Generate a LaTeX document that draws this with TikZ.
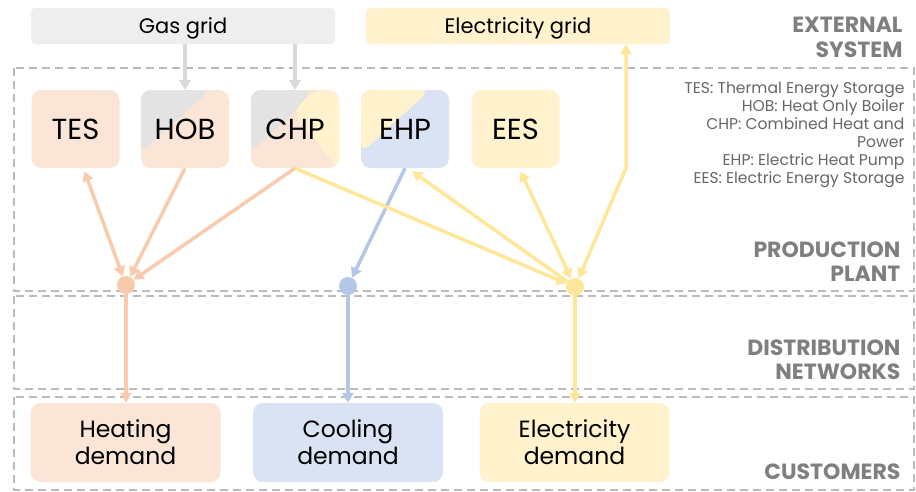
\documentclass[tikz,border=0pt]{standalone}
\usepackage{fontspec}
\setmainfont{Poppins}
\usetikzlibrary{arrows.meta,calc}

\definecolor{peachfill}{HTML}{FBE5D6}
\definecolor{peachline}{HTML}{F8CBAD}
\definecolor{yellowfill}{HTML}{FFF2CC}
\definecolor{yellowline}{HTML}{FFE699}
\definecolor{bluefill}{HTML}{DAE3F3}
\definecolor{blueline}{HTML}{B4C7E7}
\definecolor{gridgray}{HTML}{EEEEEE}
\definecolor{partgray}{HTML}{E3E3E3}
\definecolor{gasline}{HTML}{D9D9D9}
\definecolor{framegray}{HTML}{BBBBBB}
\definecolor{headgray}{HTML}{7F7F7F}
\definecolor{notegray}{HTML}{666666}

\tikzset{
  gridbox/.style={rounded corners=4pt, minimum width=304pt, minimum height=36pt,
    inner sep=0pt, text height=14.7pt, text depth=0pt,
    font=\fontsize{21}{24}\selectfont},
  unitbox/.style={rounded corners=10pt, minimum width=88pt, minimum height=78pt,
    inner sep=0pt, text height=20pt, text depth=0pt,
    font=\fontsize{29}{32}\selectfont},
  demandbox/.style={rounded corners=10pt, minimum width=190pt, minimum height=79pt,
    inner sep=0pt, align=center, font=\fontsize{23.5}{27}\selectfont},
  hub/.style={circle, inner sep=0pt, minimum size=18pt},
  region/.style={draw=framegray, line width=1.4pt, dash pattern=on 8pt off 5pt},
  flow/.style={line width=3.5pt, arrows={-Triangle[length=10pt,width=11pt]}},
  twoway/.style={line width=3.5pt,
    arrows={Triangle[length=10pt,width=11pt]-Triangle[length=10pt,width=11pt]}},
  heat/.style={draw=peachline},
  cold/.style={draw=blueline},
  elec/.style={draw=yellowline},
  gas/.style={draw=gasline, line width=3.5pt, arrows={-Triangle[length=10pt,width=12pt]}},
  head/.style={anchor=base east, text=headgray,
    font=\bfseries\fontsize{22}{24}\selectfont},
  note/.style={anchor=base east, text=notegray, font=\fontsize{15.6}{18}\selectfont},
}

\begin{document}
\begin{tikzpicture}[x=1pt, y=-1pt]
\useasboundingbox (0,0) rectangle (916,491);

% layer frames
\draw[region] (14,68) rectangle (914,291);
\draw[region] (14,296) rectangle (914,389);
\draw[region] (14,397) rectangle (914,490);

% external grids
\node[gridbox, fill=gridgray] (gas) at (183,26) {Gas grid};
\node[gridbox, fill=yellowfill] (egrid) at (518,26) {Electricity grid};

% production units
\node[unitbox, fill=peachfill] (tes) at (75.5,129) {TES};
\node[unitbox, fill=peachfill,
  path picture={\fill[partgray]
    (path picture bounding box.north west)
    -- ++(69,0) -- ++(-69,63) -- cycle;}] (hob) at (185,129) {HOB};
\node[unitbox, fill=peachfill,
  path picture={
    \fill[partgray] (path picture bounding box.north west)
      -- ++(62,0) -- ++(-20,23) -- ++(-42,39) -- cycle;
    \fill[yellowfill] ($(path picture bounding box.north west)+(62,0)$)
      -- ++(33,0) -- ++(0,88) -- ++(-53,-65) -- cycle;}] (chp) at (295,129) {CHP};
\node[unitbox, fill=bluefill,
  path picture={\fill[yellowfill]
    (path picture bounding box.north west)
    -- ++(69,0) -- ++(-69,63) -- cycle;}] (ehp) at (405,129) {EHP};
\node[unitbox, fill=yellowfill] (ees) at (515.5,129) {EES};

% abbreviations
\node[note] (n1) at (908,93) {TES: Thermal Energy Storage};
\node[note] (n2) at (908,111) {HOB: Heat Only Boiler};
\node[note] (n3) at (908,129) {CHP: Combined Heat and};
\node[note] (n4) at (908,147) {Power};
\node[note] (n5) at (908,165) {EHP: Electric Heat Pump};
\node[note] (n6) at (908,183.5) {EES: Electric Energy Storage};

% layer titles
\node[head] (h1) at (906,32) {EXTERNAL};
\node[head] (h2) at (906,57) {SYSTEM};
\node[head] (h3) at (904,257) {PRODUCTION};
\node[head] (h4) at (904,281) {PLANT};
\node[head] (h5) at (904,355) {DISTRIBUTION};
\node[head] (h6) at (904,379) {NETWORKS};
\node[head] (h7) at (904,479) {CUSTOMERS};

% demands
\node[demandbox, fill=peachfill] (hdem) at (125.5,442.5) {Heating\\demand};
\node[demandbox, fill=bluefill] (cdem) at (348,442.5) {Cooling\\demand};
\node[demandbox, fill=yellowfill] (edem) at (574.5,442.5) {Electricity\\demand};

% hubs
\node[hub] (hh) at (126,285) {};
\node[hub] (ch) at (348,286) {};
\node[hub] (eh) at (575,287) {};
\coordinate (ebend) at (626,168);

% gas supply
\draw[gas] (gas.south -| hob.north) -- (hob.north);
\draw[gas] (gas.south -| chp.north) -- (chp.north);

% heat
\draw[twoway, heat] ($(tes.south)+(9,3)$) -- (hh);
\draw[flow, heat] (hob.south) -- (hh);
\draw[flow, heat] (chp.south) -- (hh);
\draw[flow, heat] (hh) -- (hdem.north -| hh);

% cooling
\draw[flow, cold] (ehp.south) -- (ch);
\draw[flow, cold] (ch) -- (cdem.north -| ch);

% electricity
\draw[flow, elec] (chp.south) -- (eh);
\draw[flow, elec] (eh) -- ($(ehp.south)+(7,3)$);
\draw[twoway, elec] ($(ees.south)+(5,3)$) -- (eh);
\draw[twoway, elec] (eh) -- (ebend) -- (egrid.south -| ebend);
\draw[flow, elec] (eh) -- (edem.north -| eh);

% hubs on top
\fill[peachline] (hh) circle (9pt);
\fill[blueline] (ch) circle (9pt);
\fill[yellowline] (eh) circle (9pt);
\end{tikzpicture}
\end{document}
